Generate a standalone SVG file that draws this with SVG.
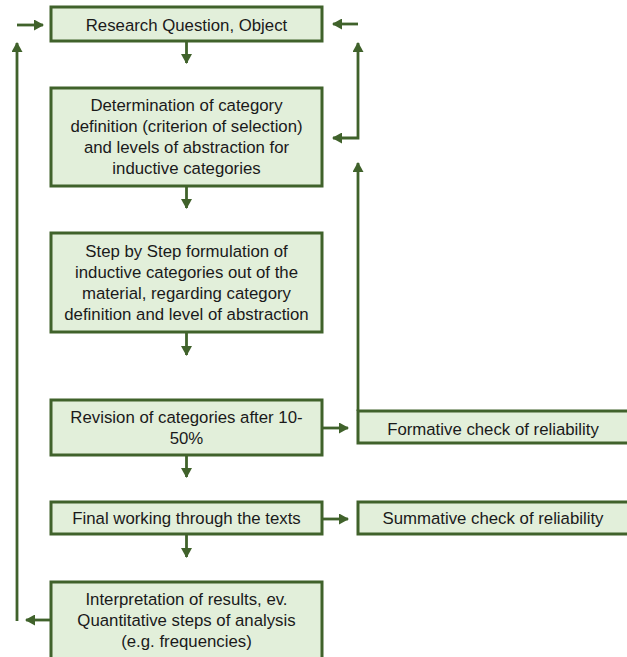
<svg xmlns="http://www.w3.org/2000/svg" width="627" height="657" viewBox="0 0 627 657">
  <defs>
    <marker id="ah" markerUnits="userSpaceOnUse" markerWidth="10" markerHeight="11" refX="9" refY="5.5" orient="auto-start-reverse">
      <path d="M0,0 L10,5.5 L0,11 Z" fill="#40622B"/>
    </marker>
    <style>
      .box { fill: #E2EFDA; stroke: #40622B; stroke-width: 3; }
      .lbl { font-family: "Liberation Sans", Arial, sans-serif; font-size: 16.8px; fill: #1a1a1a; text-anchor: middle; }
      .con { fill: none; stroke: #40622B; stroke-width: 2.8; }
    </style>
  </defs>
  <rect width="627" height="657" fill="#ffffff"/>

  <g id="connectors">
    <line class="con" x1="186.5" y1="41" x2="186.5" y2="63" marker-end="url(#ah)"/>
    <line class="con" x1="186.5" y1="186" x2="186.5" y2="208" marker-end="url(#ah)"/>
    <line class="con" x1="186.5" y1="332" x2="186.5" y2="355" marker-end="url(#ah)"/>
    <line class="con" x1="186.5" y1="455" x2="186.5" y2="477" marker-end="url(#ah)"/>
    <line class="con" x1="186.5" y1="534" x2="186.5" y2="557" marker-end="url(#ah)"/>
    <line class="con" x1="322" y1="428" x2="348" y2="428" marker-end="url(#ah)"/>
    <line class="con" x1="322" y1="519" x2="348" y2="519" marker-end="url(#ah)"/>
    <line class="con" x1="51" y1="620" x2="26" y2="620" marker-end="url(#ah)"/>
    <line class="con" x1="17" y1="621" x2="17" y2="43" marker-end="url(#ah)"/>
    <line class="con" x1="17" y1="25" x2="43" y2="25" marker-end="url(#ah)"/>
    <line class="con" x1="358" y1="24" x2="333" y2="24" marker-end="url(#ah)"/>
    <polyline class="con" points="358,43 358,138 333,138" marker-start="url(#ah)" marker-end="url(#ah)"/>
    <line class="con" x1="358" y1="411" x2="358" y2="163" marker-end="url(#ah)"/>
  </g>

  <g id="n1">
    <rect class="box" x="51" y="7" width="271" height="34"/>
    <text class="lbl" x="186.5" y="30.8">Research Question, Object</text>
  </g>
  <g id="n2">
    <rect class="box" x="51" y="88" width="271" height="98"/>
    <text class="lbl" x="186.5" y="110.8">Determination of category</text>
    <text class="lbl" x="186.5" y="131.8">definition (criterion of selection)</text>
    <text class="lbl" x="186.5" y="152.8">and levels of abstraction for</text>
    <text class="lbl" x="186.5" y="173.8">inductive categories</text>
  </g>
  <g id="n3">
    <rect class="box" x="51" y="233" width="271" height="99"/>
    <text class="lbl" x="186.5" y="257.3">Step by Step formulation of</text>
    <text class="lbl" x="186.5" y="278.3">inductive categories out of the</text>
    <text class="lbl" x="186.5" y="299.3">material, regarding category</text>
    <text class="lbl" x="186.5" y="320.3">definition and level of abstraction</text>
  </g>
  <g id="n4">
    <rect class="box" x="51" y="400" width="271" height="55"/>
    <text class="lbl" x="186.5" y="423">Revision of categories after 10-</text>
    <text class="lbl" x="186.5" y="444">50%</text>
  </g>
  <g id="n5">
    <rect class="box" x="51" y="502" width="271" height="32"/>
    <text class="lbl" x="186.5" y="524">Final working through the texts</text>
  </g>
  <g id="n6">
    <rect class="box" x="51" y="582" width="271" height="80"/>
    <text class="lbl" x="186.5" y="605">Interpretation of results, ev.</text>
    <text class="lbl" x="186.5" y="626">Quantitative steps of analysis</text>
    <text class="lbl" x="186.5" y="647">(e.g. frequencies)</text>
  </g>
  <g id="n7">
    <rect class="box" x="358" y="411" width="272" height="32"/>
    <text class="lbl" x="493" y="435">Formative check of reliability</text>
  </g>
  <g id="n8">
    <rect class="box" x="358" y="502" width="272" height="32"/>
    <text class="lbl" x="493" y="524">Summative check of reliability</text>
  </g>
</svg>
